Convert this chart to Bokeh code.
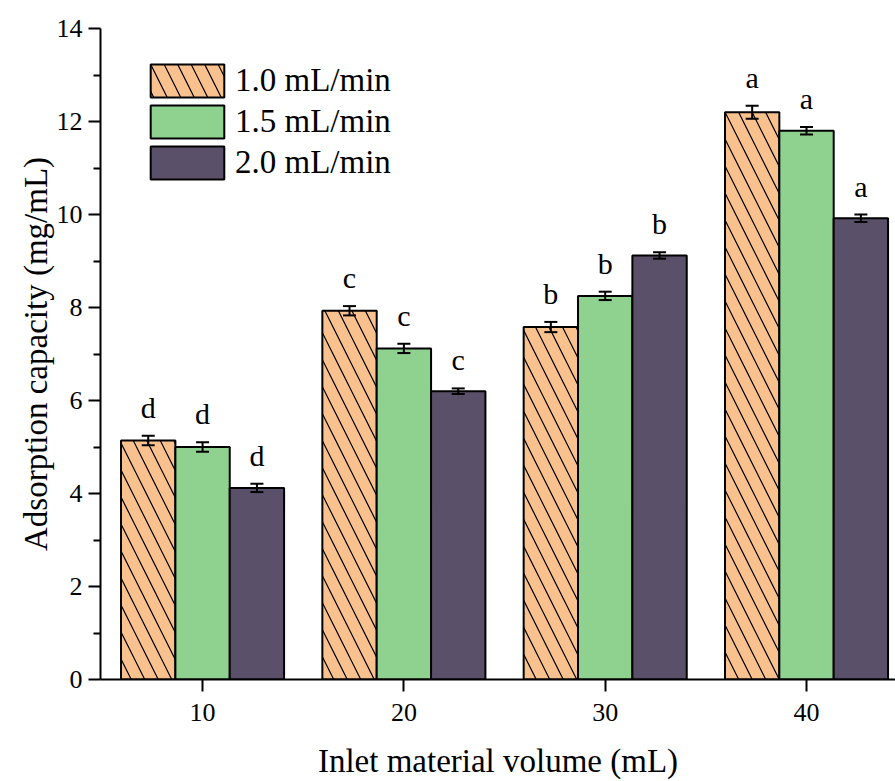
from bokeh.plotting import figure
from bokeh.models import (ColumnDataSource, Whisker, TeeHead, FixedTicker, Legend, LegendItem, Range1d)
from bokeh.core.properties import value
from bokeh.embed import file_html
from bokeh.resources import INLINE

volumes = [10, 20, 30, 40]
tick_labels = ["10", "20", "30", "40"]
series_names = ["1.0 mL/min", "1.5 mL/min", "2.0 mL/min"]
vals_10 = [5.14, 7.93, 7.58, 12.20]
vals_15 = [5.00, 7.12, 8.25, 11.80]
vals_20 = [4.12, 6.20, 9.12, 9.92]
err_10 = [0.10, 0.10, 0.11, 0.14]
err_15 = [0.10, 0.10, 0.09, 0.08]
err_20 = [0.09, 0.06, 0.07, 0.08]
letters_10 = ["d", "c", "b", "a"]
letters_15 = ["d", "c", "b", "a"]
letters_20 = ["d", "c", "b", "a"]

FONT = "Liberation Serif"
BW = 2.7
colors = ["#F8C18E", "#8FD290", "#5A5069"]
hatches = ["\\", " ", " "]

p = figure(width=895, height=781, output_backend="svg", toolbar_location=None,
           x_range=Range1d(4.93, 44.42), y_range=Range1d(0, 14),
           min_border_left=100, min_border_right=0, min_border_top=28, min_border_bottom=102)
p.outline_line_color = None
p.xgrid.visible = False
p.ygrid.visible = False

series = [(vals_10, err_10, letters_10), (vals_15, err_15, letters_15), (vals_20, err_20, letters_20)]
offsets = [-BW, 0, BW]
items = []
for i, (vals, errs, lets) in enumerate(series):
    xs = [v + offsets[i] for v in volumes]
    src = ColumnDataSource(dict(x=xs, top=vals, lower=[a - b for a, b in zip(vals, errs)],
                                upper=[a + b for a, b in zip(vals, errs)], lab=lets))
    r = p.vbar(x="x", top="top", width=BW, source=src, fill_color=colors[i],
               line_color="black", line_width=2,
               hatch_pattern=hatches[i], hatch_color="black", hatch_scale=27, hatch_weight=1.2)
    w = Whisker(base="x", lower="lower", upper="upper", source=src, line_width=2, line_color="black",
                upper_head=TeeHead(size=13, line_width=2), lower_head=TeeHead(size=13, line_width=2),
                level="overlay")
    p.add_layout(w)
    p.text(x="x", y="upper", text="lab", source=src, text_font=value(FONT), text_font_size="30px",
           text_align="center", text_baseline="bottom", y_offset=-12, text_color="black")
    items.append(LegendItem(label=series_names[i], renderers=[r]))

leg = Legend(items=items, location=(41, 496), glyph_width=92, glyph_height=41, spacing=0,
             padding=0, margin=0, label_standoff=2, border_line_color=None,
             background_fill_alpha=0, label_text_font=FONT, label_text_font_size="33px",
             label_text_color="black", label_height=41)
p.add_layout(leg)

p.xaxis.ticker = FixedTicker(ticks=volumes, minor_ticks=[])
p.xaxis.major_label_overrides = {v: t for v, t in zip(volumes, tick_labels)}
p.yaxis.ticker = FixedTicker(ticks=list(range(0, 15, 2)), minor_ticks=list(range(1, 14, 2)))

for ax in (p.xaxis[0], p.yaxis[0]):
    ax.axis_line_width = 2
    ax.major_tick_line_width = 2
    ax.minor_tick_line_width = 2
    ax.major_tick_in = 0
    ax.major_tick_out = 12
    ax.minor_tick_in = 0
    ax.minor_tick_out = 7
    ax.major_label_text_font = FONT
    ax.major_label_text_font_size = "26px"
    ax.major_label_text_color = "black"
    ax.axis_label_text_font = FONT
    ax.axis_label_text_font_size = "33px"
    ax.axis_label_text_font_style = "normal"
    ax.axis_label_text_color = "black"
    ax.axis_line_color = "black"
    ax.major_tick_line_color = "black"
    ax.minor_tick_line_color = "black"

p.xaxis.axis_label = "Inlet material volume (mL)"
p.yaxis.axis_label = "Adsorption capacity (mg/mL)"
p.xaxis.major_label_standoff = 12
p.yaxis.major_label_standoff = 6
p.xaxis.axis_label_standoff = 19
p.yaxis.axis_label_standoff = 0

open("out.html", "w").write(file_html(p, INLINE))
